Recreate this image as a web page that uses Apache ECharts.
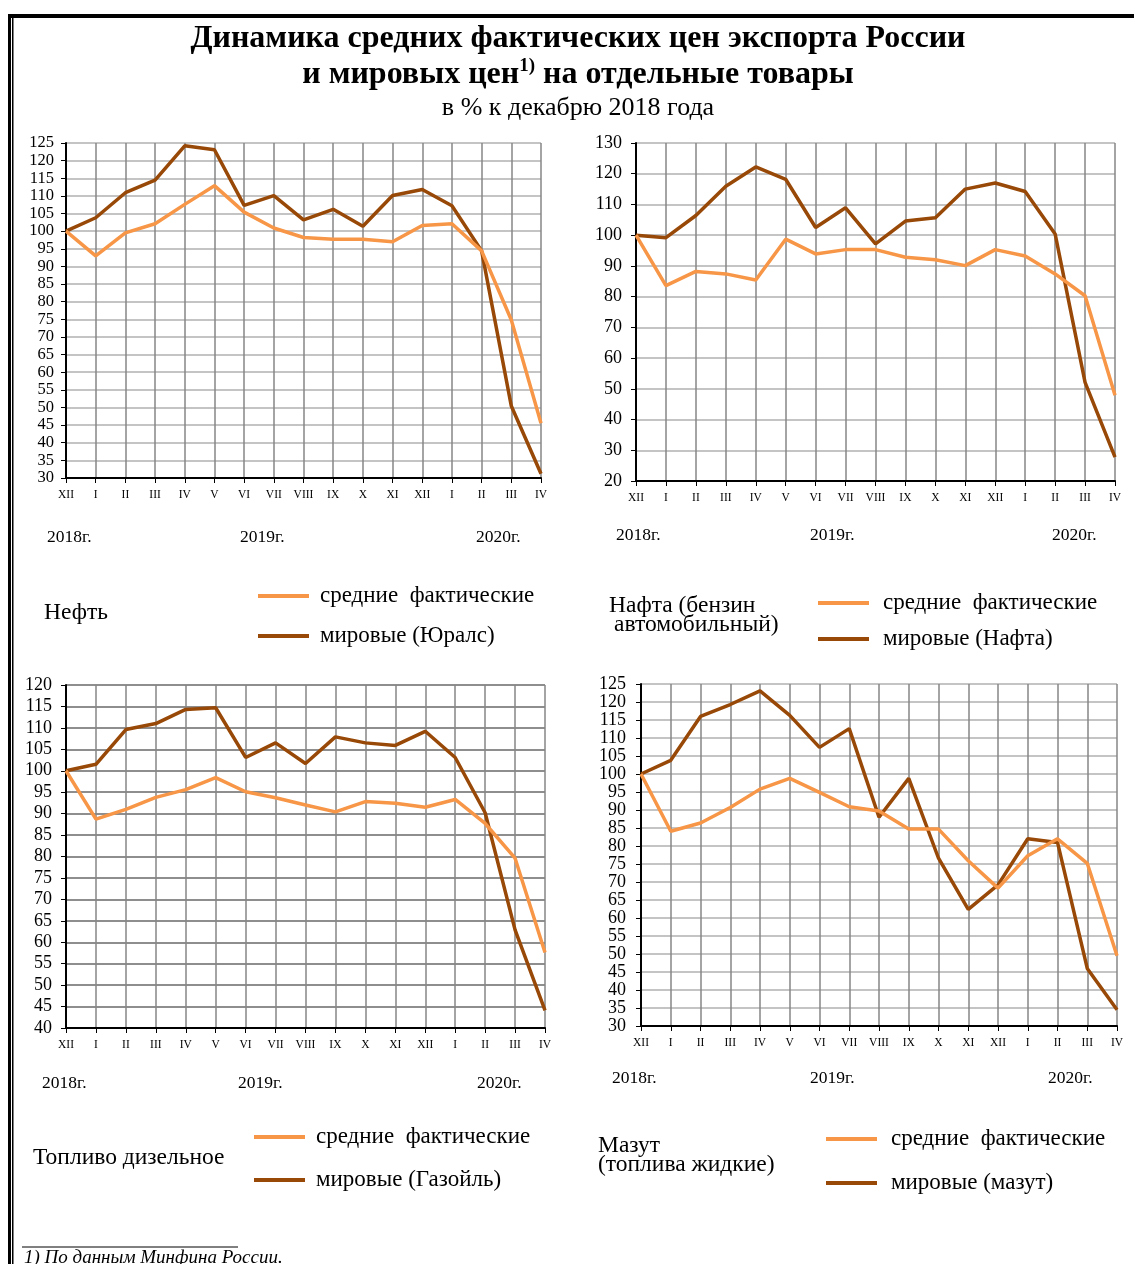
<!DOCTYPE html>
<html><head><meta charset="utf-8">
<script src="https://cdn.jsdelivr.net/npm/echarts@6/dist/echarts.min.js"></script>
<style>html,body{margin:0;padding:0;background:#fff}#c{width:1134px;height:1264px}</style>
</head><body><div id="c"></div>
<script>
// ---- data ----
const months = ['XII','I','II','III','IV','V','VI','VII','VIII','IX','X','XI','XII','I','II','III','IV'];
const years = ['2018г.','2019г.','2020г.'];
const oilActual = [100,93.0,99.5,102.1,107.6,112.9,105.4,100.9,98.2,97.7,97.7,97.0,101.6,102.1,94.4,74.8,45.5];
const oilWorld = [100,103.8,110.9,114.5,124.2,123.1,107.3,110.1,103.2,106.2,101.4,110.1,111.8,107.2,94.4,50.4,31.2];
const naphthaActual = [100,83.6,88.2,87.4,85.4,98.7,93.9,95.3,95.3,92.8,92.0,90.1,95.3,93.2,87.4,80.3,47.9];
const naphthaWorld = [100,99.2,106.4,115.9,122.2,118.2,102.5,108.9,97.2,104.6,105.7,115.0,117.0,114.2,100.4,52.1,27.8];
const dieselActual = [100,88.7,91.0,93.8,95.6,98.4,95.1,93.7,92.0,90.4,92.8,92.4,91.5,93.3,87.7,79.6,57.6];
const dieselWorld = [100,101.5,109.6,111.0,114.3,114.7,103.1,106.5,101.7,107.9,106.5,105.9,109.2,103.1,90.2,62.9,44.1];
const fuelOilActual = [100,84.1,86.4,90.7,95.8,98.8,94.9,90.9,89.7,84.7,84.7,75.9,68.3,77.3,82.0,75.2,49.5];
const fuelOilWorld = [100,103.8,116.0,119.3,123.1,116.3,107.4,112.6,88.0,98.8,76.6,62.4,69.2,82.0,81.0,46.0,34.5];
const actualName = 'средние  фактические';
const worldNames = ['мировые (Юралс)','мировые (Нафта)','мировые (Газойль)','мировые (мазут)'];
const yRanges = [[30,125,5],[20,130,10],[40,120,5],[30,125,5]];

// ---- layout / style ----
const SERIF = 'Liberation Serif';
const ORANGE = '#F79646', BROWN = '#984807';
const grids = [
  {left:66, top:143, width:475, height:335},
  {left:636, top:143, width:479, height:338},
  {left:66, top:685, width:479, height:343},
  {left:641, top:684, width:476, height:342}
];
const hGridColor = ['#c4c4c4','#c4c4c4','#8e8e8e','#c4c4c4'];
const yLabelMargin = [12,14,14,15];
const yLabelSize = [16.5,18,18,18];

const chart = echarts.init(document.getElementById('c'));
const xAxes = [], yAxes = [], series = [];
const actualSets = [oilActual, naphthaActual, dieselActual, fuelOilActual];
const worldSets = [oilWorld, naphthaWorld, dieselWorld, fuelOilWorld];
grids.forEach((g, i) => {
  xAxes.push({
    type:'category', gridIndex:i, data:months, boundaryGap:false,
    axisLine:{lineStyle:{color:'#000', width:2}},
    axisTick:{show:true, length:5, lineStyle:{color:'#000', width:1}},
    axisLabel:{interval:0, fontFamily:SERIF, fontSize:11.5, color:'#000', margin:11, hideOverlap:false},
    splitLine:{show:true, interval:0, lineStyle:{color:'#868686', width:1.5}}
  });
  yAxes.push({
    type:'value', gridIndex:i, min:yRanges[i][0], max:yRanges[i][1], interval:yRanges[i][2],
    axisLine:{show:true, lineStyle:{color:'#000', width:2}},
    axisTick:{show:true, length:5, lineStyle:{color:'#000'}},
    axisLabel:{fontFamily:SERIF, fontSize:yLabelSize[i], lineHeight:12, color:'#000', margin:yLabelMargin[i],
      showMinLabel:true, showMaxLabel:true, hideOverlap:false},
    splitLine:{show:true, lineStyle:{color:hGridColor[i], width:2}}
  });
  series.push({
    type:'line', name:worldNames[i], xAxisIndex:i, yAxisIndex:i, data:worldSets[i],
    symbol:'none', color:BROWN, lineStyle:{color:BROWN, width:3.5}, z:3, animation:false
  });
  series.push({
    type:'line', name:actualName, xAxisIndex:i, yAxisIndex:i, data:actualSets[i],
    symbol:'none', color:ORANGE, lineStyle:{color:ORANGE, width:3.5}, z:4, animation:false
  });
});

function legendCfg(left, top, gap, pad, world){
  return {left, top, orient:'vertical', itemGap:gap, itemWidth:51, itemHeight:4,
    icon:'rect', selectedMode:false, data:[actualName, world],
    textStyle:{fontFamily:SERIF, fontSize:23, lineHeight:24, color:'#000', padding:[0,0,0,pad]}};
}
const legends = [
  legendCfg(253, 579, 16, 6, worldNames[0]),
  legendCfg(813, 586, 12, 9, worldNames[1]),
  legendCfg(249, 1120, 19, 6, worldNames[2]),
  legendCfg(821, 1122, 20, 9, worldNames[3])
];

function txt(x, y, text, size, extra){
  return Object.assign({type:'text', x, y, silent:true,
    style:Object.assign({text, fontFamily:SERIF, fontSize:size, fill:'#000', textAlign:'left', textVerticalAlign:'middle'}, extra||{})});
}
const yearPos = [
  [[47,537],[240,537],[476,537]],
  [[616,535],[810,535],[1052,535]],
  [[42,1083],[238,1083],[477,1083]],
  [[612,1078],[810,1078],[1048,1078]]
];
const graphics = [
  {type:'rect', shape:{x:8, y:14, width:1126, height:4}, style:{fill:'#000'}},
  {type:'rect', shape:{x:8, y:14, width:3, height:1250}, style:{fill:'#000'}},
  {type:'rect', shape:{x:12, y:18, width:1.5, height:1246}, style:{fill:'#000'}},
  txt(578, 39, 'Динамика средних фактических цен экспорта России', 32, {fontWeight:'bold', textAlign:'center'}),
  {type:'text', x:578, y:75, silent:true, style:{
    text:'{a|и мировых цен}{s|1)}{a| на отдельные товары}', textAlign:'center', textVerticalAlign:'middle',
    rich:{a:{fontFamily:SERIF, fontSize:32, fontWeight:'bold', fill:'#000'},
          s:{fontFamily:SERIF, fontSize:19, fontWeight:'bold', fill:'#000', padding:[0,0,18,0]}}}},
  txt(578, 108, 'в % к декабрю 2018 года', 26, {textAlign:'center'}),
  txt(44, 613, 'Нефть', 23.5),
  txt(609, 606, 'Нафта (бензин', 23.5),
  txt(614, 625, 'автомобильный)', 23.5),
  txt(33, 1158, 'Топливо дизельное', 23.5),
  txt(598, 1146, 'Мазут', 23.5),
  txt(598, 1165, '(топлива жидкие)', 23.5),
  {type:'line', shape:{x1:22, y1:1247, x2:238, y2:1247}, style:{stroke:'#000', lineWidth:1}},
  txt(24, 1258, '1) По данным Минфина России.', 19, {fontStyle:'italic'})
];
yearPos.forEach(p => p.forEach((xy, k) => graphics.push(txt(xy[0], xy[1], years[k], 17.5))));

chart.setOption({
  animation:false,
  backgroundColor:'#fff',
  grid:grids,
  xAxis:xAxes,
  yAxis:yAxes,
  legend:legends,
  series:series,
  graphic:graphics
});
</script>
</body></html>
